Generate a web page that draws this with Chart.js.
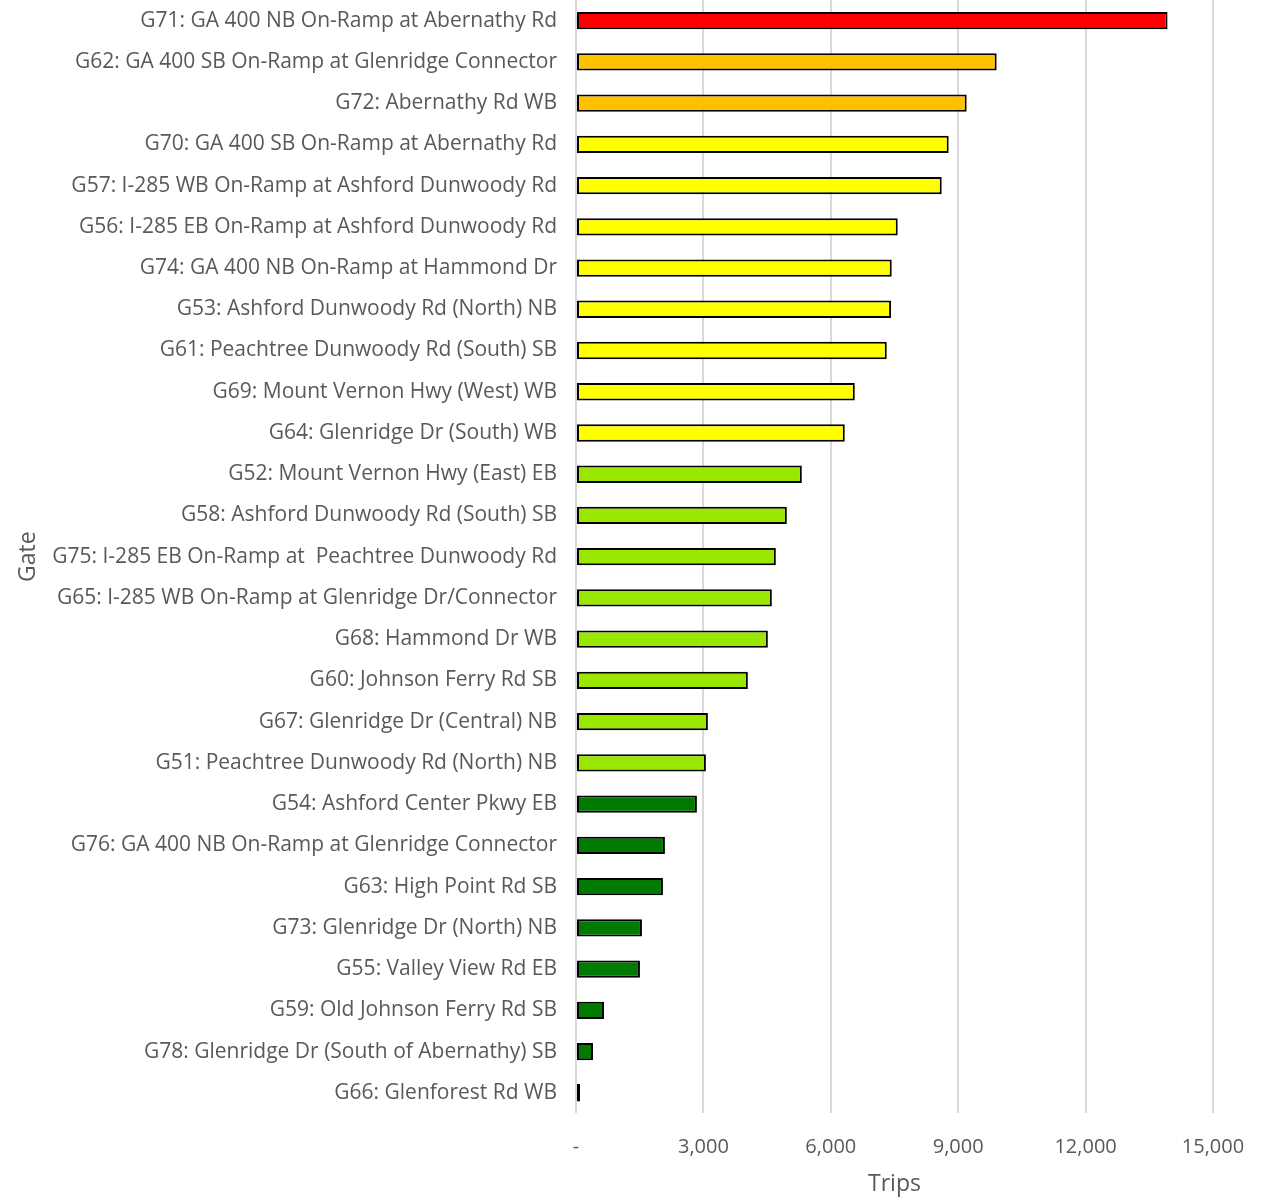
<!DOCTYPE html>
<html lang="en">
<head>
  <meta charset="utf-8" />
  <title>Trips by Gate</title>
  <script src="https://cdn.jsdelivr.net/npm/chart.js@4/dist/chart.umd.min.js"></script>
  <style>
    html, body {
      margin: 0;
      padding: 0;
      background: #ffffff;
    }
    #chart-container {
      width: 1276px;
      height: 1198px;
    }
  </style>
</head>
<body>
  <div id="chart-container">
    <canvas id="gateChart" width="1276" height="1198"></canvas>
  </div>

  <script>
    // Data
    const gates = [
      "G71: GA 400 NB On-Ramp at Abernathy Rd",
      "G62: GA 400 SB On-Ramp at Glenridge Connector",
      "G72: Abernathy Rd WB",
      "G70: GA 400 SB On-Ramp at Abernathy Rd",
      "G57: I-285 WB On-Ramp at Ashford Dunwoody Rd",
      "G56: I-285 EB On-Ramp at Ashford Dunwoody Rd",
      "G74: GA 400 NB On-Ramp at Hammond Dr",
      "G53: Ashford Dunwoody Rd (North) NB",
      "G61: Peachtree Dunwoody Rd (South) SB",
      "G69: Mount Vernon Hwy (West) WB",
      "G64: Glenridge Dr (South) WB",
      "G52: Mount Vernon Hwy (East) EB",
      "G58: Ashford Dunwoody Rd (South) SB",
      "G75: I-285 EB On-Ramp at  Peachtree Dunwoody Rd",
      "G65: I-285 WB On-Ramp at Glenridge Dr/Connector",
      "G68: Hammond Dr WB",
      "G60: Johnson Ferry Rd SB",
      "G67: Glenridge Dr (Central) NB",
      "G51: Peachtree Dunwoody Rd (North) NB",
      "G54: Ashford Center Pkwy EB",
      "G76: GA 400 NB On-Ramp at Glenridge Connector",
      "G63: High Point Rd SB",
      "G73: Glenridge Dr (North) NB",
      "G55: Valley View Rd EB",
      "G59: Old Johnson Ferry Rd SB",
      "G78: Glenridge Dr (South of Abernathy) SB",
      "G66: Glenforest Rd WB"
    ];

    const trips = [
      13930, 9906, 9200, 8776, 8612, 7576, 7435, 7420, 7318, 6565,
      6329, 5318, 4965, 4706, 4612, 4518, 4047, 3106, 3059, 2847,
      2094, 2047, 1553, 1506, 659, 400, 94
    ];

    // colour group for each gate (0 = red ... 4 = dark green, 5 = empty)
    const groups = [
      0, 1, 1, 2, 2, 2, 2, 2, 2, 2,
      2, 3, 3, 3, 3, 3, 3, 3, 3, 4,
      4, 4, 4, 4, 4, 4, 5
    ];
    const groupColors = ["#ff0000", "#ffc000", "#ffff00", "#99e600", "#007a00", "#ffffff"];

    const xTicks = [0, 3000, 6000, 9000, 12000, 15000];

    const textColor = "#595959";
    const fontFamily = "'Open Sans', 'Noto Sans', sans-serif";

    const ctx = document.getElementById("gateChart").getContext("2d");
    new Chart(ctx, {
      type: "bar",
      data: {
        labels: gates,
        datasets: [{
          data: trips,
          backgroundColor: groups.map(g => groupColors[g]),
          borderColor: "#000000",
          borderWidth: 2,
          borderSkipped: false,
          barPercentage: 0.42,
          categoryPercentage: 1.0
        }]
      },
      options: {
        indexAxis: "y",
        responsive: false,
        maintainAspectRatio: false,
        animation: false,
        layout: {
          padding: { left: 4, right: 63, top: 0, bottom: 0 }
        },
        plugins: {
          legend: { display: false },
          tooltip: { enabled: false }
        },
        scales: {
          x: {
            min: 0,
            max: 15000,
            afterBuildTicks: scale => {
              scale.ticks = xTicks.map(v => ({ value: v }));
            },
            grid: {
              color: "#d9d9d9",
              lineWidth: 2,
              drawTicks: false
            },
            border: { display: false },
            ticks: {
              color: textColor,
              padding: 22,
              font: { family: fontFamily, size: 20 },
              callback: v => v === 0 ? "-" : v.toLocaleString("en-US")
            },
            title: {
              display: true,
              text: "Trips",
              color: textColor,
              font: { family: fontFamily, size: 23 },
              padding: { top: -11, bottom: 0 }
            }
          },
          y: {
            grid: { display: false, drawTicks: false },
            border: { display: false },
            ticks: {
              color: textColor,
              padding: 19,
              autoSkip: false,
              font: { family: fontFamily, size: 21 }
            },
            title: {
              display: true,
              text: "Gate",
              color: textColor,
              font: { family: fontFamily, size: 23 },
              padding: { top: 11, bottom: 0 }
            },
            afterFit: scale => {
              scale.width = 572;
              scale.paddingTop = 0;
              scale.paddingBottom = 0;
            }
          }
        }
      }
    });
  </script>
</body>
</html>
